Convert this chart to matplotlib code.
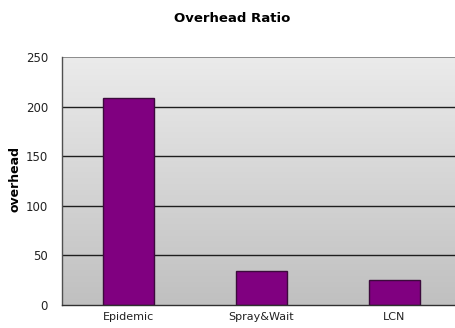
import numpy as np
import matplotlib
matplotlib.use("Agg")
import matplotlib.pyplot as plt
from matplotlib.colors import LinearSegmentedColormap

categories = ["Epidemic", "Spray&Wait", "LCN"]
overhead = [209, 34, 25]
yticks = [0, 50, 100, 150, 200, 250]

plt.rcParams["font.family"] = ["DejaVu Sans"]

fig = plt.figure(figsize=(4.56, 3.28), dpi=100)
fig.patch.set_facecolor("white")
ax = fig.add_axes([62 / 456, 1 - 305 / 328, 399 / 456, 248 / 328])

x = np.arange(len(categories))
ax.set_xlim(-0.5, len(categories) - 0.5)
ax.set_ylim(0, 250)

# vertical gray gradient behind the plot
grad = np.linspace(0, 1, 256).reshape(-1, 1)
cmap = LinearSegmentedColormap.from_list("bg", ["#c0c0c0", "#ebebeb"])
ax.imshow(grad, cmap=cmap, aspect="auto", origin="lower",
          extent=(-0.5, len(categories) - 0.5, 0, 250), zorder=0)

for v in yticks[1:-1]:
    ax.axhline(v, color="#1e1e1e", lw=1.0, zorder=1)
ax.axhline(250, color="#8c8c8c", lw=1.4, zorder=1)

ax.bar(x, overhead, width=0.39, color="#800080", edgecolor="#3c0a3c",
       linewidth=1.0, zorder=2)

for s in ["top", "right"]:
    ax.spines[s].set_visible(False)
ax.spines["left"].set_color("#505050")
ax.spines["bottom"].set_color("#303030")
ax.spines["left"].set_linewidth(1.0)
ax.spines["bottom"].set_linewidth(1.0)

ax.set_yticks(yticks)
ax.set_yticklabels([str(t) for t in yticks], fontsize=8.5, color="#222222")
ax.tick_params(axis="y", length=0, pad=10)
ax.set_xticks(x)
ax.set_xticklabels(categories, fontsize=8, color="#222222")
ax.tick_params(axis="x", length=0, pad=5)

fig.text(15 / 456, 1 - 179 / 328, "overhead", rotation=90, fontsize=9,
         fontweight="bold", ha="center", va="center")
fig.text(232 / 456, 1 - 18 / 328, "Overhead Ratio", fontsize=9.5,
         fontweight="bold", ha="center", va="center")

fig.savefig("out.png", dpi=100)
